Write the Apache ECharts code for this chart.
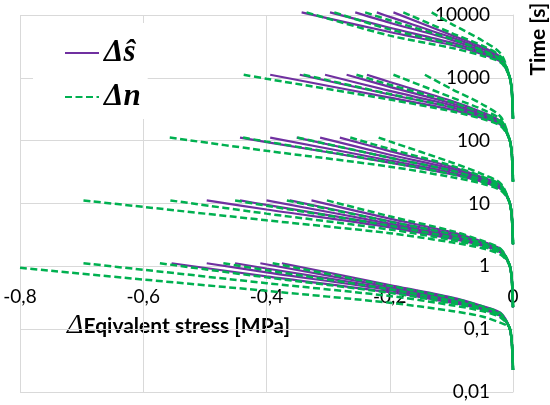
<!DOCTYPE html>
<html>
<head>
<meta charset="utf-8">
<script src="https://cdn.jsdelivr.net/npm/echarts@6/dist/echarts.min.js"></script>
<style>
html, body { margin: 0; padding: 0; background: #ffffff; }
#chart_1 { width: 550px; height: 405px; }
</style>
</head>
<body>
<div id="chart_1"></div>
<script>
// [stress change MPa, time s], one list per curve
var purple1 = [
	[[-0.554, 1.12], [-0.4, 0.693], [-0.2, 0.387], [-0.1, 0.263], [-0.05, 0.207], [-0.02, 0.162]],
	[[-0.497, 1.12], [-0.4, 0.802], [-0.2, 0.418], [-0.1, 0.276], [-0.05, 0.214], [-0.02, 0.166]],
	[[-0.451, 1.12], [-0.4, 0.923], [-0.2, 0.443], [-0.1, 0.29], [-0.05, 0.22], [-0.02, 0.17]],
	[[-0.41, 1.12], [-0.2, 0.471], [-0.1, 0.305], [-0.05, 0.227], [-0.02, 0.174]],
	[[-0.375, 1.12], [-0.2, 0.505], [-0.1, 0.321], [-0.05, 0.234], [-0.02, 0.182]]
];
var green1 = [
	[[-0.8, 0.95], [-0.6, 0.617], [-0.4, 0.407], [-0.2, 0.263], [-0.1, 0.195], [-0.05, 0.159], [-0.02, 0.126]],
	[[-0.697, 1.12], [-0.6, 0.883], [-0.4, 0.54], [-0.2, 0.337], [-0.1, 0.241], [-0.05, 0.194], [-0.02, 0.153]],
	[[-0.573, 1.12], [-0.4, 0.667], [-0.2, 0.379], [-0.1, 0.26], [-0.05, 0.205], [-0.02, 0.16]],
	[[-0.47, 1.12], [-0.4, 0.867], [-0.2, 0.431], [-0.1, 0.284], [-0.05, 0.218], [-0.02, 0.169]],
	[[-0.39, 1.12], [-0.2, 0.489], [-0.1, 0.313], [-0.05, 0.231], [-0.02, 0.178]]
];
var tail1 = [[-0.006, 0.107], [-0.002, 0.063], [0, 0.0224]];

var purple10 = [
	[[-0.497, 11.2], [-0.4, 8.02], [-0.2, 4.18], [-0.1, 2.76], [-0.05, 2.14], [-0.02, 1.66]],
	[[-0.443, 11.2], [-0.4, 9.48], [-0.2, 4.48], [-0.1, 2.92], [-0.05, 2.21], [-0.02, 1.71]],
	[[-0.4, 11.2], [-0.2, 4.79], [-0.1, 3.09], [-0.05, 2.29], [-0.02, 1.76]],
	[[-0.362, 11.2], [-0.2, 5.21], [-0.1, 3.28], [-0.05, 2.38], [-0.02, 1.82]],
	[[-0.327, 11.2], [-0.2, 5.73], [-0.1, 3.51], [-0.05, 2.48], [-0.02, 1.87]]
];
var green10 = [
	[[-0.697, 11.2], [-0.6, 8.83], [-0.4, 5.4], [-0.2, 3.37], [-0.1, 2.41], [-0.05, 1.94], [-0.02, 1.53]],
	[[-0.556, 11.2], [-0.4, 6.9], [-0.2, 3.86], [-0.1, 2.63], [-0.05, 2.07], [-0.02, 1.62]],
	[[-0.451, 11.2], [-0.4, 9.22], [-0.2, 4.43], [-0.1, 2.9], [-0.05, 2.2], [-0.02, 1.7]],
	[[-0.367, 11.2], [-0.2, 5.15], [-0.1, 3.26], [-0.05, 2.36], [-0.02, 1.81]],
	[[-0.302, 11.2], [-0.2, 6.25], [-0.1, 3.67], [-0.05, 2.55], [-0.02, 1.9]]
];
var tail10 = [[-0.006, 1.07], [-0.002, 0.63], [0, 0.224]];

var purple100 = [
	[[-0.443, 112], [-0.4, 94.8], [-0.2, 44.8], [-0.1, 29.2], [-0.05, 22.1], [-0.02, 17.1]],
	[[-0.394, 112], [-0.2, 48.4], [-0.1, 31.2], [-0.05, 23], [-0.02, 17.8]],
	[[-0.351, 112], [-0.2, 53.6], [-0.1, 33.5], [-0.05, 24], [-0.02, 18.4]],
	[[-0.313, 112], [-0.2, 59.8], [-0.1, 35.9], [-0.05, 25.1], [-0.02, 19]],
	[[-0.281, 112], [-0.2, 68.2], [-0.1, 38.5], [-0.05, 26.2], [-0.02, 19.4]]
];
var green100 = [
	[[-0.557, 112], [-0.4, 69], [-0.2, 38.6], [-0.1, 26.3], [-0.05, 20.7], [-0.02, 16.2]],
	[[-0.438, 112], [-0.4, 96.6], [-0.2, 45.1], [-0.1, 29.4], [-0.05, 22.2], [-0.02, 17.1]],
	[[-0.35, 112], [-0.2, 53.4], [-0.1, 33.4], [-0.05, 24], [-0.02, 18.4]],
	[[-0.264, 112], [-0.2, 73.8], [-0.1, 40.1], [-0.05, 26.8], [-0.02, 19.7]],
	[[-0.218, 112], [-0.2, 97.3], [-0.1, 45.2], [-0.05, 29.4], [-0.02, 20.8]]
];
var tail100 = [[-0.006, 10.7], [-0.002, 6.3], [0, 2.24]];

var purple1000 = [
	[[-0.394, 1120], [-0.2, 484], [-0.1, 312], [-0.05, 230], [-0.02, 178]],
	[[-0.346, 1120], [-0.2, 543], [-0.1, 338], [-0.05, 242], [-0.02, 184]],
	[[-0.305, 1120], [-0.2, 619], [-0.1, 366], [-0.05, 254], [-0.02, 191]],
	[[-0.27, 1120], [-0.2, 718], [-0.1, 394], [-0.05, 266], [-0.02, 195]],
	[[-0.237, 1120], [-0.2, 857], [-0.1, 430], [-0.05, 283], [-0.02, 202]]
];
var green1000 = [
	[[-0.437, 1120], [-0.4, 966], [-0.2, 451], [-0.1, 294], [-0.05, 222], [-0.02, 171]],
	[[-0.34, 1120], [-0.2, 552], [-0.1, 342], [-0.05, 243], [-0.02, 185]],
	[[-0.254, 1120], [-0.2, 776], [-0.1, 413], [-0.05, 273], [-0.02, 199]],
	[[-0.194, 1120], [-0.1, 490], [-0.05, 315], [-0.02, 216]],
	[[-0.143, 1120], [-0.1, 667], [-0.05, 380], [-0.02, 239]]
];
var tail1000 = [[-0.006, 107], [-0.002, 63], [0, 22.4]];

var purple10000 = [
	[[-0.343, 11000], [-0.2, 5360], [-0.1, 3330], [-0.05, 2380], [-0.02, 1810]],
	[[-0.297, 11000], [-0.2, 6260], [-0.1, 3630], [-0.05, 2510], [-0.02, 1880]],
	[[-0.256, 11000], [-0.2, 7540], [-0.1, 4020], [-0.05, 2660], [-0.02, 1940]],
	[[-0.221, 11000], [-0.2, 9340], [-0.1, 4400], [-0.05, 2870], [-0.02, 2030]],
	[[-0.194, 11000], [-0.1, 4800], [-0.05, 3090], [-0.02, 2120]]
];
var green10000 = [
	[[-0.335, 11000], [-0.2, 4700], [-0.1, 3000], [-0.05, 2250], [-0.02, 1750]],
	[[-0.29, 11000], [-0.2, 5900], [-0.1, 3450], [-0.05, 2530], [-0.02, 1890]],
	[[-0.24, 11000], [-0.2, 8250], [-0.1, 4180], [-0.05, 2750], [-0.02, 1980]],
	[[-0.178, 11000], [-0.1, 5180], [-0.05, 3250], [-0.02, 2170]],
	[[-0.132, 11000], [-0.1, 7240], [-0.05, 3930], [-0.02, 2420]]
];
var tail10000 = [[-0.006, 1070], [-0.002, 630], [0, 224]];

var purpleGroups = [purple1, purple10, purple100, purple1000, purple10000];
var greenGroups = [green1, green10, green100, green1000, green10000];
var tails = [tail1, tail10, tail100, tail1000, tail10000];

var nameS = 'Δŝ';
var nameN = 'Δn';

var dom = document.getElementById("chart_1");
var myChart = echarts.init(dom);

var series = [];
purpleGroups.forEach(function (group, g) {
	group.forEach(function (curve) {
		series.push({
			name: nameS,
			type: 'line',
			data: curve.concat(tails[g]),
			showSymbol: false,
			symbol: 'none',
			smooth: 0.3,
			clip: false,
			silent: true,
			lineStyle: { color: '#7030A0', width: 2.2 },
			itemStyle: { color: '#7030A0' }
		});
	});
});
greenGroups.forEach(function (group, g) {
	group.forEach(function (curve) {
		series.push({
			name: nameN,
			type: 'line',
			data: curve.concat(tails[g]),
			showSymbol: false,
			symbol: 'none',
			smooth: 0.3,
			clip: false,
			silent: true,
			lineStyle: { color: '#00B050', width: 2.5, type: [7, 3.5] },
			itemStyle: { color: '#00B050' }
		});
	});
});

var gridColor = '#d9d9d9';
var commaNum = function (v) { return String(v).replace('.', ','); };

var option = {
	backgroundColor: '#ffffff',
	animation: false,
	grid: { left: 20, right: 37, top: 15, bottom: 13 },
	legend: {
		data: [nameS, nameN],
		orient: 'vertical',
		left: 33,
		top: 23,
		padding: [12, 7, 4, 31],
		itemGap: 8,
		itemWidth: 34,
		itemHeight: 14,
		backgroundColor: '#ffffff',
		selectedMode: false,
		itemStyle: { opacity: 0 },
		textStyle: {
			fontFamily: 'Liberation Serif',
			fontWeight: 'bold',
			fontStyle: 'italic',
			fontSize: 31,
			lineHeight: 36,
			color: '#000'
		}
	},
	xAxis: {
		type: 'value',
		min: -0.8,
		max: 0,
		interval: 0.2,
		position: 'bottom',
		offset: -125,
		axisLine: { show: false },
		axisTick: { show: false },
		splitLine: { show: true, lineStyle: { color: gridColor, width: 1 } },
		axisLabel: {
			margin: 20,
			fontFamily: 'Lato',
			fontSize: 19,
			color: '#000',
			formatter: commaNum
		}
	},
	yAxis: {
		type: 'log',
		logBase: 10,
		min: 0.01,
		max: 10000,
		position: 'right',
		axisLine: { show: true, lineStyle: { color: gridColor } },
		axisTick: { show: false },
		splitLine: { show: true, lineStyle: { color: gridColor, width: 1 } },
		axisLabel: {
			inside: true,
			margin: 23,
			fontFamily: 'Lato',
			fontSize: 19,
			color: '#000',
			formatter: commaNum
		}
	},
	graphic: [
		{
			type: 'text',
			left: 67,
			top: 312,
			style: {
				text: '{d|Δ}{b|Eqivalent stress [MPa]}',
				rich: {
					d: { fontFamily: 'Liberation Serif', fontStyle: 'italic', fontSize: 28, fill: '#000' },
					b: { fontFamily: 'Lato', fontWeight: 'bold', fontSize: 21, fill: '#000' }
				}
			}
		},
		{
			type: 'text',
			x: 538,
			y: 39,
			rotation: Math.PI / 2,
			style: {
				text: 'Time [s]',
				fontFamily: 'Lato',
				fontWeight: 'bold',
				fontSize: 21,
				fill: '#000',
				align: 'center',
				verticalAlign: 'middle'
			}
		}
	],
	series: series
};

if (option && typeof option === "object") {
	myChart.setOption(option, true);
}
</script>
</body>
</html>
